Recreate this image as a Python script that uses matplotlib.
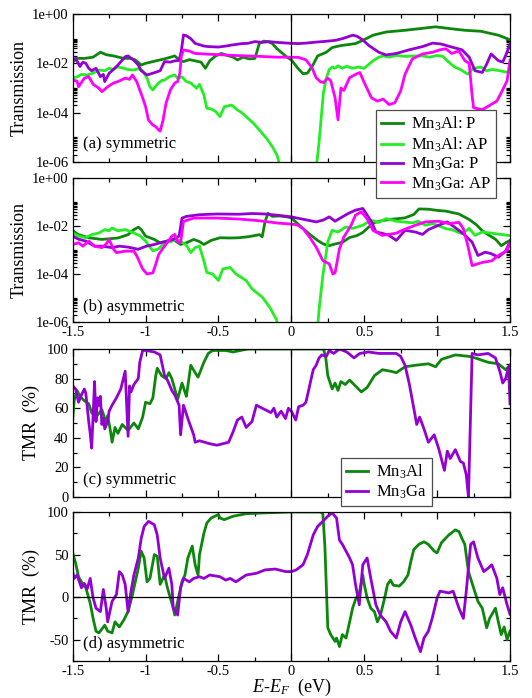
import numpy as np
import matplotlib
matplotlib.use("Agg")
import matplotlib.pyplot as plt
from matplotlib.ticker import MultipleLocator, FixedLocator, FuncFormatter, NullFormatter

plt.rcParams["font.family"] = ["Liberation Serif", "DejaVu Serif"]
plt.rcParams["mathtext.fontset"] = "custom"
plt.rcParams["mathtext.rm"] = "Liberation Serif"
plt.rcParams["mathtext.it"] = "Liberation Serif:italic"
plt.rcParams["axes.unicode_minus"] = False

# (E-EF [eV], log10 T)
a_al_p = [(-1.5, -1.95), (-1.47, -1.8), (-1.42, -1.8), (-1.36, -1.75), (-1.31, -1.55), (-1.27, -1.65),
          (-1.22, -1.7), (-1.15, -1.8), (-1.1, -1.8), (-1.07, -1.86), (-1.03, -2.07), (-1.0, -2.0),
          (-0.95, -1.93), (-0.9, -1.86), (-0.87, -1.82), (-0.8, -1.7), (-0.77, -1.85), (-0.74, -1.93),
          (-0.7, -1.85), (-0.66, -1.9), (-0.62, -1.95), (-0.59, -2.2), (-0.56, -1.9), (-0.52, -1.7),
          (-0.48, -1.6), (-0.44, -1.68), (-0.4, -1.75), (-0.37, -1.86), (-0.33, -1.75), (-0.29, -1.82),
          (-0.25, -1.8), (-0.22, -1.2), (-0.19, -1.1), (-0.16, -1.12), (-0.13, -1.2), (-0.1, -1.4),
          (-0.07, -1.55), (-0.03, -1.75), (0.0, -1.86), (0.045, -2.2), (0.08, -2.42), (0.11, -2.4),
          (0.15, -2.05), (0.18, -1.7), (0.24, -1.55), (0.28, -1.36), (0.34, -1.28), (0.44, -1.2),
          (0.49, -1.07), (0.56, -0.86), (0.65, -0.73), (0.78, -0.66), (0.9, -0.58), (0.99, -0.52),
          (1.03, -0.55), (1.1, -0.6), (1.19, -0.66), (1.3, -0.7), (1.42, -0.86), (1.46, -0.95), (1.5, -1.05)]
a_al_ap = [(-1.5, -2.6), (-1.47, -2.55), (-1.44, -2.45), (-1.4, -2.47), (-1.36, -2.4), (-1.32, -2.27),
           (-1.28, -2.3), (-1.25, -2.2), (-1.22, -2.25), (-1.19, -2.14), (-1.15, -2.2), (-1.12, -2.25),
           (-1.08, -2.27), (-1.05, -2.22), (-1.02, -2.3), (-0.99, -2.6), (-0.97, -2.95), (-0.95, -3.08),
           (-0.92, -2.85), (-0.89, -2.7), (-0.87, -2.68), (-0.84, -2.55), (-0.8, -2.47), (-0.78, -2.6),
           (-0.75, -2.55), (-0.72, -2.74), (-0.69, -2.8), (-0.65, -3.01), (-0.63, -2.85), (-0.6, -3.28),
           (-0.58, -3.82), (-0.55, -3.85), (-0.52, -3.95), (-0.49, -4.16), (-0.46, -3.76), (-0.43, -3.72),
           (-0.41, -3.69), (-0.37, -3.89), (-0.34, -4.0), (-0.31, -4.16), (-0.26, -4.43), (-0.22, -4.7),
           (-0.17, -5.04), (-0.13, -5.38), (-0.1, -5.7), (-0.07, -6.3), (0.17, -6.3), (0.19, -5.2),
           (0.205, -4.2), (0.22, -3.2), (0.24, -2.6), (0.26, -2.25), (0.28, -2.15), (0.3, -2.2),
           (0.32, -2.1), (0.35, -2.2), (0.38, -2.12), (0.42, -2.2), (0.46, -2.15), (0.5, -2.2),
           (0.53, -2.05), (0.56, -1.9), (0.6, -1.75), (0.63, -1.7), (0.67, -1.75), (0.72, -1.68),
           (0.78, -1.72), (0.85, -1.7), (0.9, -1.7), (0.95, -1.75), (1.0, -1.68), (1.04, -1.72),
           (1.08, -1.95), (1.12, -2.15), (1.16, -2.25), (1.21, -2.44), (1.25, -2.2), (1.3, -2.15),
           (1.34, -2.3), (1.38, -2.25), (1.43, -2.3), (1.47, -2.35), (1.5, -2.35)]
a_ga_p = [(-1.5, -1.86), (-1.48, -1.8), (-1.45, -2.13), (-1.43, -1.95), (-1.41, -2.0), (-1.39, -2.2),
          (-1.37, -2.3), (-1.34, -2.2), (-1.31, -2.54), (-1.29, -2.45), (-1.28, -2.74), (-1.25, -2.4),
          (-1.23, -2.3), (-1.19, -2.07), (-1.14, -1.73), (-1.12, -1.7), (-1.08, -1.88), (-1.05, -2.07),
          (-1.03, -2.3), (-0.99, -2.47), (-0.95, -2.4), (-0.9, -2.3), (-0.87, -1.93), (-0.83, -1.95),
          (-0.8, -1.9), (-0.77, -1.88), (-0.755, -1.5), (-0.74, -0.85), (-0.72, -0.88), (-0.69, -1.0),
          (-0.66, -1.19), (-0.6, -1.3), (-0.57, -1.32), (-0.5, -1.34), (-0.45, -1.3), (-0.41, -1.26),
          (-0.34, -1.2), (-0.3, -1.19), (-0.25, -1.12), (-0.2, -1.15), (-0.15, -1.12), (-0.1, -1.15),
          (-0.05, -1.17), (0.0, -1.19), (0.05, -1.2), (0.1, -1.18), (0.17, -1.14), (0.25, -1.1),
          (0.3, -1.07), (0.35, -1.0), (0.4, -0.9), (0.42, -0.86), (0.45, -0.9), (0.49, -1.05),
          (0.53, -1.27), (0.6, -1.55), (0.65, -1.66), (0.72, -1.6), (0.81, -1.45), (0.9, -1.32),
          (0.97, -1.18), (1.03, -1.22), (1.1, -1.34), (1.17, -1.45), (1.22, -1.75), (1.26, -2.3),
          (1.31, -2.37), (1.34, -2.03), (1.37, -1.62), (1.42, -1.89), (1.45, -1.95), (1.48, -1.55),
          (1.5, -1.2)]
a_ga_ap = [(-1.5, -2.68), (-1.47, -2.72), (-1.46, -2.95), (-1.42, -2.6), (-1.39, -2.54), (-1.36, -2.85),
           (-1.32, -3.01), (-1.3, -3.15), (-1.26, -2.95), (-1.22, -2.8), (-1.19, -2.74), (-1.14, -2.6),
           (-1.11, -2.65), (-1.09, -2.47), (-1.06, -2.75), (-1.04, -3.08), (-1.02, -3.4), (-1.0, -3.76),
           (-0.98, -4.3), (-0.95, -4.5), (-0.93, -4.57), (-0.91, -4.7), (-0.9, -4.75), (-0.88, -4.3),
           (-0.86, -3.62), (-0.83, -3.08), (-0.8, -2.8), (-0.78, -2.74), (-0.765, -2.4), (-0.755, -1.7),
           (-0.74, -1.46), (-0.7, -1.5), (-0.66, -1.6), (-0.6, -1.62), (-0.5, -1.65), (-0.39, -1.68),
           (-0.3, -1.7), (-0.21, -1.72), (-0.1, -1.75), (0.0, -1.75), (0.05, -1.76), (0.1, -1.86),
           (0.14, -2.16), (0.17, -2.58), (0.2, -2.75), (0.22, -2.78), (0.25, -2.6), (0.27, -2.7),
           (0.3, -3.4), (0.32, -4.29), (0.34, -3.0), (0.36, -3.1), (0.4, -2.58), (0.44, -2.45),
           (0.47, -2.37), (0.5, -2.78), (0.55, -3.4), (0.59, -3.53), (0.63, -3.45), (0.67, -3.67),
           (0.71, -3.6), (0.75, -3.12), (0.78, -2.44), (0.83, -1.82), (0.9, -1.62), (0.97, -1.55),
           (1.02, -1.45), (1.06, -1.41), (1.1, -1.6), (1.15, -1.5), (1.19, -1.89), (1.22, -2.0),
           (1.24, -3.3), (1.25, -3.8), (1.31, -3.88), (1.35, -3.74), (1.41, -3.53), (1.44, -3.19),
           (1.48, -2.71), (1.5, -1.87)]

b_al_p = [(-1.5, -2.2), (-1.46, -2.36), (-1.39, -2.49), (-1.3, -2.56), (-1.19, -2.5), (-1.12, -2.36),
          (-1.08, -2.15), (-1.05, -2.05), (-1.03, -2.15), (-1.0, -2.42), (-0.94, -2.56), (-0.9, -2.7),
          (-0.85, -2.62), (-0.81, -2.56), (-0.76, -2.77), (-0.72, -2.7), (-0.67, -2.56), (-0.63, -2.65),
          (-0.6, -2.77), (-0.55, -2.6), (-0.49, -2.49), (-0.42, -2.5), (-0.36, -2.49), (-0.3, -2.45),
          (-0.27, -2.42), (-0.22, -2.36), (-0.2, -2.45), (-0.18, -1.81), (-0.16, -1.47), (-0.13, -1.6),
          (-0.08, -1.58), (-0.03, -1.62), (0.0, -1.66), (0.06, -2.0), (0.125, -2.34), (0.18, -2.6),
          (0.22, -2.75), (0.26, -2.82), (0.3, -2.75), (0.35, -2.68), (0.4, -2.48), (0.45, -2.4),
          (0.49, -2.27), (0.53, -2.05), (0.57, -1.86), (0.62, -1.78), (0.67, -1.73), (0.72, -1.7),
          (0.78, -1.66), (0.84, -1.52), (0.875, -1.29), (0.94, -1.3), (1.0, -1.35), (1.06, -1.38),
          (1.15, -1.5), (1.22, -1.73), (1.27, -1.95), (1.31, -2.2), (1.36, -2.4), (1.4, -2.55),
          (1.44, -2.82), (1.47, -2.7), (1.5, -2.6)]
b_al_ap = [(-1.5, -2.29), (-1.46, -2.42), (-1.41, -2.49), (-1.37, -2.36), (-1.32, -2.29), (-1.28, -2.15),
           (-1.25, -2.2), (-1.23, -2.08), (-1.19, -2.2), (-1.14, -2.15), (-1.08, -2.29), (-1.04, -2.4),
           (-1.0, -2.63), (-0.95, -3.04), (-0.91, -2.95), (-0.87, -2.7), (-0.83, -2.66), (-0.79, -2.55),
           (-0.76, -2.63), (-0.72, -2.8), (-0.69, -3.11), (-0.66, -2.9), (-0.63, -2.84), (-0.6, -3.45),
           (-0.58, -3.93), (-0.54, -4.0), (-0.5, -4.27), (-0.47, -3.79), (-0.42, -3.73), (-0.38, -4.0),
           (-0.31, -4.27), (-0.27, -4.62), (-0.2, -4.96), (-0.15, -5.37), (-0.1, -5.92), (-0.08, -7.0),
           (0.17, -7.0), (0.19, -5.5), (0.216, -4.07), (0.25, -2.67), (0.28, -2.18), (0.32, -2.25),
           (0.375, -2.04), (0.42, -2.1), (0.49, -1.97), (0.545, -1.76), (0.6, -1.85), (0.65, -1.69),
           (0.72, -1.8), (0.83, -1.87), (0.87, -1.8), (0.92, -1.97), (0.97, -1.9), (1.06, -2.11),
           (1.1, -2.15), (1.17, -2.32), (1.22, -2.1), (1.26, -2.39), (1.31, -2.25), (1.4, -2.32),
           (1.5, -2.4)]
b_ga_p = [(-1.5, -2.42), (-1.46, -2.55), (-1.41, -2.63), (-1.35, -2.84), (-1.3, -2.84), (-1.23, -2.9),
          (-1.18, -2.84), (-1.12, -2.88), (-1.05, -2.97), (-1.0, -2.85), (-0.94, -2.77), (-0.9, -2.7),
          (-0.85, -2.63), (-0.81, -2.56), (-0.77, -2.42), (-0.75, -1.67), (-0.72, -1.6), (-0.63, -1.53),
          (-0.51, -1.5), (-0.36, -1.51), (-0.27, -1.48), (-0.18, -1.5), (-0.1, -1.55), (0.0, -1.62),
          (0.057, -1.69), (0.17, -1.83), (0.22, -1.75), (0.26, -1.62), (0.3, -1.8), (0.35, -1.62),
          (0.39, -1.48), (0.44, -1.34), (0.49, -1.27), (0.51, -1.45), (0.55, -1.83), (0.58, -2.25),
          (0.62, -2.3), (0.67, -2.39), (0.72, -2.6), (0.78, -2.18), (0.85, -2.25), (0.9, -2.35),
          (0.94, -2.15), (1.01, -1.97), (1.07, -1.83), (1.12, -2.05), (1.18, -2.32), (1.24, -2.67),
          (1.28, -3.23), (1.33, -3.09), (1.37, -3.15), (1.42, -3.3), (1.47, -3.05), (1.5, -2.65)]
b_ga_ap = [(-1.5, -2.77), (-1.46, -2.7), (-1.43, -2.84), (-1.39, -2.63), (-1.35, -2.84), (-1.3, -2.9),
           (-1.27, -2.75), (-1.25, -2.56), (-1.22, -2.97), (-1.2, -3.11), (-1.14, -3.05), (-1.08, -3.05),
           (-1.06, -3.25), (-1.04, -3.52), (-1.02, -3.79), (-0.99, -4.0), (-0.95, -3.95), (-0.93, -3.59),
           (-0.91, -3.18), (-0.87, -2.84), (-0.84, -2.6), (-0.82, -2.42), (-0.8, -2.35), (-0.78, -2.65),
           (-0.76, -2.7), (-0.74, -1.81), (-0.67, -1.67), (-0.51, -1.67), (-0.36, -1.71), (-0.22, -1.78),
           (-0.09, -1.88), (0.0, -1.92), (0.04, -1.95), (0.08, -2.11), (0.125, -2.46), (0.17, -2.88),
           (0.216, -3.44), (0.26, -3.58), (0.285, -4.0), (0.3, -3.95), (0.33, -2.95), (0.36, -2.46),
           (0.41, -1.97), (0.44, -1.55), (0.48, -1.41), (0.52, -1.7), (0.56, -2.18), (0.625, -2.39),
           (0.72, -2.3), (0.76, -2.18), (0.85, -1.97), (0.92, -1.83), (1.01, -1.8), (1.08, -1.9),
           (1.15, -1.85), (1.18, -2.11), (1.21, -2.8), (1.24, -3.65), (1.31, -3.52), (1.375, -3.45),
           (1.42, -3.23), (1.48, -3.02), (1.5, -2.7)]

# (E-EF [eV], TMR [%])
c_al = [(-1.5, 52), (-1.49, 65), (-1.47, 72), (-1.45, 68), (-1.42, 65), (-1.39, 63), (-1.37, 57),
        (-1.34, 54), (-1.3, 59), (-1.27, 50), (-1.26, 55), (-1.24, 44), (-1.23, 37), (-1.21, 47),
        (-1.19, 43), (-1.16, 49), (-1.12, 45), (-1.08, 50), (-1.05, 46), (-1.02, 54), (-1.0, 64),
        (-0.97, 63), (-0.95, 67), (-0.93, 82), (-0.92, 87), (-0.89, 82), (-0.86, 80), (-0.84, 84),
        (-0.82, 80), (-0.8, 73), (-0.78, 66), (-0.75, 77), (-0.73, 71), (-0.72, 68), (-0.69, 89),
        (-0.66, 84), (-0.64, 81), (-0.6, 91), (-0.57, 97), (-0.54, 99), (-0.45, 99), (-0.4, 98),
        (-0.3, 100), (0.22, 100), (0.235, 95), (0.25, 82), (0.28, 73), (0.3, 77), (0.32, 72),
        (0.34, 78), (0.37, 76), (0.4, 79), (0.43, 76), (0.48, 71), (0.52, 74), (0.57, 82),
        (0.625, 86), (0.68, 85), (0.72, 84), (0.75, 86), (0.78, 88), (0.85, 89), (0.94, 90),
        (0.99, 88), (1.03, 93), (1.125, 96), (1.22, 95), (1.26, 94), (1.35, 91), (1.42, 90),
        (1.47, 86), (1.5, 89)]
c_ga = [(-1.5, 75), (-1.48, 73), (-1.46, 64), (-1.44, 69), (-1.42, 73), (-1.41, 70), (-1.39, 51),
        (-1.38, 43), (-1.37, 33), (-1.36, 55), (-1.35, 78), (-1.34, 51), (-1.33, 67), (-1.32, 62),
        (-1.31, 68), (-1.3, 49), (-1.29, 53), (-1.28, 46), (-1.26, 51), (-1.25, 58), (-1.23, 62),
        (-1.2, 67), (-1.17, 73), (-1.14, 85), (-1.12, 41), (-1.11, 75), (-1.1, 71), (-1.08, 76),
        (-1.05, 80), (-1.04, 91), (-1.02, 99), (-1.0, 99), (-0.94, 98), (-0.9, 96), (-0.87, 82),
        (-0.85, 79), (-0.82, 72), (-0.8, 69), (-0.77, 62), (-0.76, 42), (-0.74, 62), (-0.71, 53),
        (-0.67, 42), (-0.66, 37), (-0.63, 38), (-0.56, 36), (-0.51, 35), (-0.47, 36), (-0.43, 37),
        (-0.4, 44), (-0.37, 52), (-0.34, 54), (-0.31, 47), (-0.27, 51), (-0.24, 62), (-0.22, 61),
        (-0.18, 59), (-0.14, 57), (-0.12, 60), (-0.1, 54), (-0.07, 58), (-0.04, 53), (-0.02, 60),
        (0.0, 58), (0.03, 52), (0.05, 61), (0.08, 62), (0.1, 64), (0.125, 75), (0.15, 86),
        (0.17, 89), (0.19, 94), (0.21, 96), (0.24, 95), (0.26, 99), (0.29, 97), (0.33, 100),
        (0.38, 98), (0.43, 94), (0.47, 97), (0.53, 98), (0.6, 97), (0.67, 97), (0.72, 97),
        (0.75, 95), (0.78, 89), (0.81, 76), (0.84, 60), (0.86, 49), (0.88, 54), (0.91, 46),
        (0.94, 37), (0.98, 42), (1.01, 33), (1.05, 18), (1.07, 31), (1.09, 26), (1.125, 32),
        (1.16, 24), (1.18, 23), (1.2, 15), (1.215, 0), (1.24, 97), (1.28, 96), (1.35, 97),
        (1.4, 94), (1.43, 85), (1.45, 77), (1.47, 80), (1.49, 88), (1.5, 63)]
d_al = [(-1.5, 52), (-1.49, 46), (-1.48, 40), (-1.46, 24), (-1.43, 15), (-1.41, 11), (-1.38, -7),
        (-1.36, -25), (-1.34, -40), (-1.32, -42), (-1.28, -33), (-1.26, -40), (-1.23, -42),
        (-1.21, -29), (-1.18, -35), (-1.15, -27), (-1.12, -17), (-1.09, 3), (-1.05, 34), (-1.03, 54),
        (-1.01, 46), (-0.99, 18), (-0.97, 22), (-0.94, 50), (-0.92, 48), (-0.9, 15), (-0.87, 26),
        (-0.85, 11), (-0.83, -1), (-0.81, -13), (-0.8, -21), (-0.78, -5), (-0.75, 18), (-0.73, 26),
        (-0.71, 46), (-0.68, 60), (-0.66, 38), (-0.64, 26), (-0.63, 50), (-0.6, 75), (-0.58, 87),
        (-0.55, 93), (-0.5, 97), (-0.49, 93), (-0.46, 91), (-0.4, 95), (-0.31, 98), (-0.18, 99),
        (0.0, 100), (0.2, 100), (0.216, 98), (0.23, 60), (0.25, -36), (0.27, -44), (0.3, -52),
        (0.31, -48), (0.33, -58), (0.35, -44), (0.375, -48), (0.4, -29), (0.42, -13), (0.44, -3),
        (0.466, 5), (0.49, 26), (0.5, 15), (0.52, -1), (0.545, -13), (0.57, -17), (0.59, -29),
        (0.61, -22), (0.64, -1), (0.66, 15), (0.68, 20), (0.7, 14), (0.74, 13), (0.77, 18),
        (0.8, 26), (0.82, 42), (0.84, 56), (0.875, 62), (0.91, 65), (0.94, 62), (0.98, 54),
        (1.0, 52), (1.03, 64), (1.08, 73), (1.125, 79), (1.15, 77), (1.17, 69), (1.19, 62),
        (1.215, 30), (1.25, 11), (1.28, -5), (1.31, -13), (1.34, -36), (1.36, -25), (1.4, -13),
        (1.42, -29), (1.44, -44), (1.46, -35), (1.48, -50), (1.5, -40)]
d_ga = [(-1.5, 30), (-1.49, 22), (-1.47, 26), (-1.44, 11), (-1.42, 16), (-1.4, 10), (-1.38, 22),
        (-1.36, -1), (-1.34, -13), (-1.31, -17), (-1.29, 9), (-1.27, -13), (-1.26, -29), (-1.23, -5),
        (-1.2, 3), (-1.18, 30), (-1.16, 26), (-1.14, 15), (-1.12, -17), (-1.1, 7), (-1.08, 26),
        (-1.05, 46), (-1.03, 69), (-1.01, 83), (-0.98, 89), (-0.94, 85), (-0.92, 73), (-0.9, 46),
        (-0.87, 22), (-0.86, 26), (-0.84, 34), (-0.82, 15), (-0.81, -13), (-0.78, -21), (-0.76, 11),
        (-0.74, 22), (-0.7, 18), (-0.67, 22), (-0.63, 24), (-0.6, 22), (-0.56, 26), (-0.49, 24),
        (-0.45, 20), (-0.42, 22), (-0.38, 18), (-0.31, 26), (-0.24, 28), (-0.18, 32), (-0.11, 33),
        (-0.04, 30), (0.0, 30), (0.034, 32), (0.08, 38), (0.11, 50), (0.15, 73), (0.18, 83),
        (0.216, 89), (0.25, 95), (0.28, 99), (0.31, 93), (0.33, 67), (0.35, 62), (0.375, 54),
        (0.4, 46), (0.42, 38), (0.44, 15), (0.466, -9), (0.49, 38), (0.52, 46), (0.545, 22),
        (0.58, -9), (0.61, -21), (0.65, -29), (0.68, -40), (0.72, -48), (0.75, -29), (0.78, -17),
        (0.82, -33), (0.85, -48), (0.886, -64), (0.91, -48), (0.94, -40), (0.966, -25), (1.0, -1),
        (1.02, 7), (1.08, 5), (1.11, 7), (1.15, -13), (1.18, -25), (1.2, 7), (1.23, 62), (1.25, 65),
        (1.28, 46), (1.32, 30), (1.35, 34), (1.375, 38), (1.41, 22), (1.43, 3), (1.45, 11),
        (1.48, -9), (1.5, -20)]

trans_labels = ["Mn$_3$Al: P", "Mn$_3$Al: AP", "Mn$_3$Ga: P", "Mn$_3$Ga: AP"]
tmr_labels = ["Mn$_3$Al", "Mn$_3$Ga"]
colors = ["#0c870c", "#22ee22", "#9400d3", "#ff00ff"]

W, H = 532, 698
fig = plt.figure(figsize=(W / 100, H / 100), dpi=100)


def box(top, bottom):
    return [72.7 / W, 1 - bottom / H, 437.3 / W, (bottom - top) / H]


ax_a = fig.add_axes(box(14, 162))
ax_b = fig.add_axes(box(178, 322))
ax_c = fig.add_axes(box(349, 497))
ax_d = fig.add_axes(box(512, 661))
ax_a.set_zorder(3)
ax_c.set_zorder(3)

lw = 2.0
for ax, curves in [(ax_a, [a_al_p, a_al_ap, a_ga_p, a_ga_ap]), (ax_b, [b_al_p, b_al_ap, b_ga_p, b_ga_ap])]:
    for c, col, lab in zip(curves, colors, trans_labels):
        x, lg = np.array(c).T
        ax.plot(x, 10.0 ** lg, color=col, lw=lw, label=lab)
    ax.set_yscale("log")
    ax.set_ylim(1e-6, 1)
    ax.yaxis.set_major_locator(FixedLocator([1e-6, 1e-4, 1e-2, 1]))
    ax.yaxis.set_minor_locator(FixedLocator([m * 10.0 ** k for k in (-6, -4, -2) for m in range(2, 11)]))
    ax.yaxis.set_major_formatter(FuncFormatter(lambda v, p: f"{v:.0e}"))
    ax.yaxis.set_minor_formatter(NullFormatter())
    ax.set_ylabel("Transmission", fontsize=13)
    ax.yaxis.set_label_coords(-0.102, 0.5)

for ax, curves in [(ax_c, [c_al, c_ga]), (ax_d, [d_al, d_ga])]:
    for c, col, lab in zip(curves, [colors[0], colors[2]], tmr_labels):
        x, t = np.array(c).T
        ax.plot(x, t, color=col, lw=lw, label=lab)
    ax.set_ylabel("TMR  (%)", fontsize=13)
    ax.yaxis.set_label_coords(-0.075, 0.5)

ax_c.set_ylim(0, 100)
ax_c.yaxis.set_major_locator(MultipleLocator(20))
ax_c.yaxis.set_minor_locator(MultipleLocator(10))
ax_d.set_ylim(-75, 100)
ax_d.yaxis.set_major_locator(MultipleLocator(50))
ax_d.yaxis.set_minor_locator(MultipleLocator(25))
ax_d.axhline(0, color="black", lw=0.9)

for ax in [ax_a, ax_b, ax_c, ax_d]:
    ax.set_xlim(-1.5, 1.5)
    ax.axvline(0, color="black", lw=0.9)
    ax.xaxis.set_major_locator(MultipleLocator(0.5))
    ax.xaxis.set_minor_locator(MultipleLocator(0.25))
    ax.xaxis.set_major_formatter(FuncFormatter(lambda v, p: f"{v:g}"))
    ax.tick_params(which="both", direction="in", top=True, right=True, labelsize=10.5, pad=3)
    ax.tick_params(which="major", length=5, width=0.9)
    ax.tick_params(which="minor", length=2.8, width=0.9)
    for s in ax.spines.values():
        s.set_linewidth(0.9)
for ax in [ax_a, ax_c]:
    ax.tick_params(labelbottom=False)

ax_d.set_xlabel("$E$-$E_F$  (eV)", fontsize=13, labelpad=-1)

ax_a.text(0.023, 0.093, "(a) symmetric", transform=ax_a.transAxes, fontsize=12)
ax_b.text(0.023, 0.078, "(b) asymmetric", transform=ax_b.transAxes, fontsize=12)
ax_c.text(0.023, 0.088, "(c) symmetric", transform=ax_c.transAxes, fontsize=12)
ax_d.text(0.023, 0.089, "(d) asymmetric", transform=ax_d.transAxes, fontsize=12)

leg_kw = dict(fontsize=12, frameon=True, fancybox=False, framealpha=1, edgecolor="0.3",
              borderpad=0.3, handlelength=1.3, handletextpad=0.5, labelspacing=0.12, borderaxespad=0)
lg = ax_a.legend(loc="upper left", bbox_to_anchor=(0.694, 0.351), **leg_kw)
lg.get_frame().set_linewidth(0.9)
lg = ax_c.legend(loc="upper left", bbox_to_anchor=(0.6135, 0.2635), **leg_kw)
lg.get_frame().set_linewidth(0.9)

fig.savefig("out.png", dpi=100)
